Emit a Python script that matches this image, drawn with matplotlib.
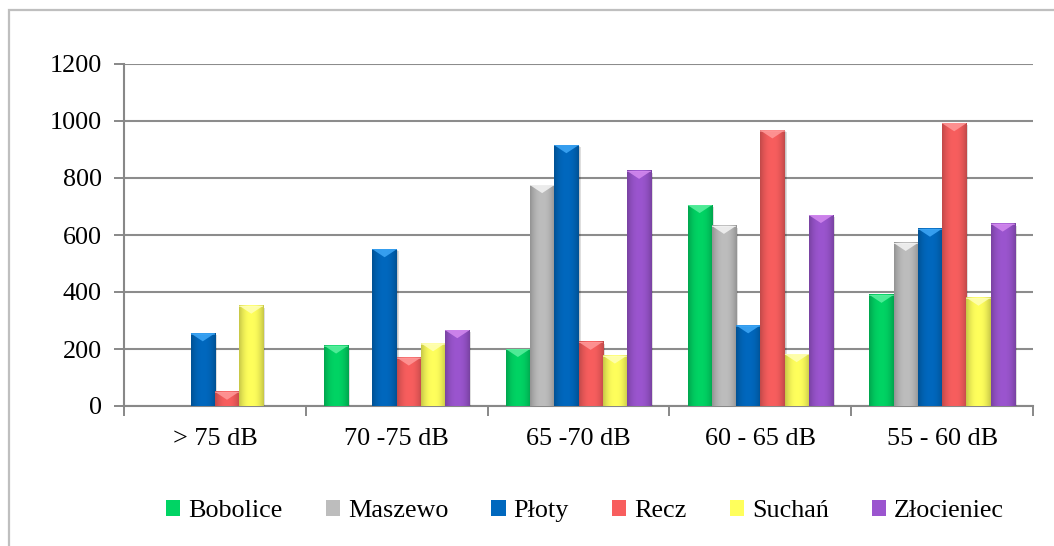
import numpy as np
import matplotlib
matplotlib.use("Agg")
import matplotlib.pyplot as plt
from matplotlib.patches import Rectangle, Polygon
from matplotlib.colors import to_rgb
from matplotlib import font_manager

categories = ["> 75 dB", "70 -75 dB", "65 -70 dB", "60 - 65 dB", "55 - 60 dB"]
series_names = ["Bobolice", "Maszewo", "Płoty", "Recz", "Suchań", "Złocieniec"]
bobolice = [0, 212, 200, 705, 390]
maszewo = [0, 0, 775, 632, 572]
ploty = [255, 550, 915, 283, 622]
recz = [50, 170, 225, 967, 992]
suchan = [352, 220, 177, 182, 380]
zlocieniec = [0, 266, 825, 670, 640]
y_ticks = [0, 200, 400, 600, 800, 1000, 1200]

values = [bobolice, maszewo, ploty, recz, suchan, zlocieniec]
colors = ["#00D464", "#BDBDBD", "#0068BE", "#F85E5E", "#FFFF5C", "#9B55CF"]
bevels = ["#5CF0A0", "#F4F4F4", "#3FA8F8", "#FF9A9A", "#FFFFB8", "#D48AF0"]

serif_names = [f.name for f in font_manager.fontManager.ttflist
               if "Serif" in f.name and "Liberation" in f.name]
plt.rcParams["font.family"] = "serif"
plt.rcParams["font.serif"] = (serif_names[:1] or []) + ["Liberation Serif",
                                                        "Times New Roman",
                                                        "DejaVu Serif"]
FS = 18.8
W, H = 1054, 546
fig = plt.figure(figsize=(W / 100, H / 100), dpi=100)
ax = fig.add_axes([124 / W, 1 - 406 / H, (1033 - 124) / W, (406 - 64) / H])

# outer chart-area frame
fig.add_artist(Rectangle((9 / W, -0.2), 1.5, 1 - 10 / H + 0.2,
                         transform=fig.transFigure, fill=False,
                         edgecolor="#BFBFBF", lw=1.6))

n = len(series_names)
x = np.arange(len(categories))
bw = 0.8 / n
ax.set_xlim(-0.5, len(categories) - 0.5)
ax.set_ylim(0, 1200)

# data units per display pixel (fixed axes geometry)
px_x = (len(categories)) / (1033 - 124)
px_y = 1200 / (406 - 64)

prof = np.linspace(-1, 1, 40)
shade = 1.0 - 0.22 * np.abs(prof) ** 2.2

handles = []
for i, (vals, c, bc) in enumerate(zip(values, colors, bevels)):
    xs = x - 0.4 + bw * (i + 0.5)
    bars = ax.bar(xs, vals, width=bw, color=c, edgecolor="none", zorder=3,
                  label=series_names[i])
    handles.append(bars)
    rgb = np.array(to_rgb(c))
    for b in bars:
        h = b.get_height()
        if h <= 0:
            continue
        x0, w = b.get_x(), b.get_width()
        # soft shadow
        ax.add_patch(Rectangle((x0 + 2 * px_x, -2 * px_y), w, h,
                               facecolor="#000000", alpha=0.13, lw=0,
                               zorder=2.5))
        ax.add_patch(Rectangle((x0 + 1 * px_x, -1 * px_y), w, h,
                               facecolor="#000000", alpha=0.10, lw=0,
                               zorder=2.6))
        # horizontal gradient body
        img = np.clip(rgb[None, None, :] * shade[None, :, None], 0, 1)
        ax.imshow(img, extent=(x0, x0 + w, 0, h), aspect="auto",
                  zorder=3.1, interpolation="bilinear")
        # top bevel
        bh = min(8 * px_y, h)
        ax.add_patch(Polygon([(x0, h), (x0 + w, h), (x0 + w * 0.5, h - bh)],
                             closed=True, facecolor=bc, lw=0, alpha=0.85,
                             zorder=3.3))
        ax.add_patch(Rectangle((x0, h - 1.2 * px_y), w, 1.2 * px_y,
                               facecolor=bc, lw=0, alpha=0.6, zorder=3.3))

ax.set_ylim(0, 1200)
ax.set_xlim(-0.5, len(categories) - 0.5)
ax.set_yticks(y_ticks)
ax.set_xticks(np.arange(len(categories) + 1) - 0.5, minor=False)
ax.set_xticklabels([])
ax.set_xticks(x, minor=True)
ax.set_xticklabels(categories, minor=True)
ax.tick_params(axis="x", which="minor", length=0, pad=16, labelsize=FS)
ax.tick_params(axis="x", which="major", length=7, width=1.4, color="#888888")
ax.tick_params(axis="y", length=7, width=1.4, color="#888888", pad=9,
               labelsize=FS)

ax.grid(axis="y", color="#8C8C8C", lw=1.5, zorder=1)
for s in ["top", "right"]:
    ax.spines[s].set_visible(False)
for s in ["left", "bottom"]:
    ax.spines[s].set_color("#888888")
    ax.spines[s].set_linewidth(1.5)
    ax.spines[s].set_zorder(2)

leg = fig.legend(handles=handles, labels=series_names, loc="center",
                 bbox_to_anchor=(585 / W, 1 - 511 / H), ncol=n, frameon=False,
                 fontsize=FS, handlelength=0.55, handleheight=0.55,
                 handletextpad=0.3, columnspacing=1.65, borderpad=0)

fig.savefig("out.png", dpi=100, facecolor="white")
